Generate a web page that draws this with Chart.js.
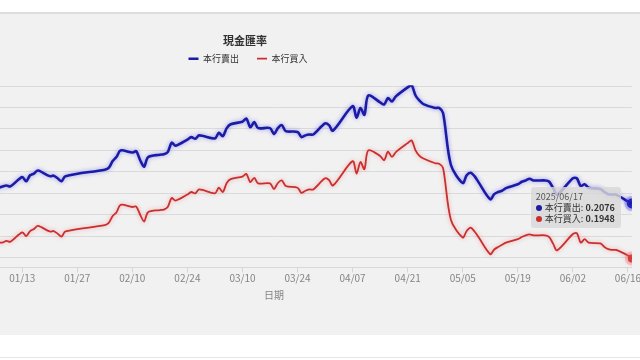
<!DOCTYPE html>
<html>
<head>
<meta charset="utf-8">
<script src="https://cdn.jsdelivr.net/npm/chart.js@4.4.1/dist/chart.umd.min.js"></script>
<style>
  html, body { margin: 0; padding: 0; background: #fff; width: 640px; height: 360px; overflow: hidden; }
  #panel { position: absolute; left: 0; top: 12px; width: 640px; height: 321px; background: #f1f1f1; border-top: 2px solid #dedede; overflow: hidden; }
  #wrap { position: absolute; left: -151px; top: 0; width: 792px; height: 321px; }
  #foot { position: absolute; left: 0; top: 357px; width: 640px; height: 1px; background: #e6e6e6; }
  #tip { position: absolute; display: none; z-index: 5; pointer-events: none;
         background: rgba(216, 216, 216, 0.82); border-radius: 3px; padding: 4px 6px 4px 5px;
         font-family: 'Noto Sans CJK TC', 'Noto Sans', sans-serif; color: #333; white-space: nowrap; }
  #tip .t { font-size: 9px; line-height: 11px; color: #555; }
  #tip .r { font-size: 9px; line-height: 11px; }
  #tip .dot { display: inline-block; width: 6px; height: 6px; border-radius: 50%; margin-right: 3px; vertical-align: 0; }
</style>
</head>
<body>
<div id="panel">
  <div id="wrap">
    <canvas id="rateChart"></canvas>
    <div id="tip"></div>
  </div>
</div>
<div id="foot"></div>
<script>
// 現金匯率 (日圓), 本行賣出 / 本行買入
const rangeStart = '2024/12/17';
const rangeEnd = '2025/06/17';

const dates = [
  '2025/01/02', '2025/01/03', '2025/01/06', '2025/01/07', '2025/01/08', '2025/01/09', '2025/01/10',
  '2025/01/13', '2025/01/14', '2025/01/15', '2025/01/16', '2025/01/17',
  '2025/01/20', '2025/01/21', '2025/01/22', '2025/01/23', '2025/01/24',
  '2025/02/03', '2025/02/04', '2025/02/05', '2025/02/06', '2025/02/07',
  '2025/02/10', '2025/02/11', '2025/02/12', '2025/02/13', '2025/02/14',
  '2025/02/17', '2025/02/18', '2025/02/19', '2025/02/20', '2025/02/21',
  '2025/02/24', '2025/02/25', '2025/02/26', '2025/02/27',
  '2025/03/03', '2025/03/04', '2025/03/05', '2025/03/06', '2025/03/07',
  '2025/03/10', '2025/03/11', '2025/03/12', '2025/03/13', '2025/03/14',
  '2025/03/17', '2025/03/18', '2025/03/19', '2025/03/20', '2025/03/21',
  '2025/03/24', '2025/03/25', '2025/03/26', '2025/03/27', '2025/03/28',
  '2025/03/31', '2025/04/01', '2025/04/02',
  '2025/04/07', '2025/04/08', '2025/04/09', '2025/04/10', '2025/04/11',
  '2025/04/14', '2025/04/15', '2025/04/16', '2025/04/17', '2025/04/18',
  '2025/04/21', '2025/04/22', '2025/04/23', '2025/04/24', '2025/04/25',
  '2025/04/28', '2025/04/29', '2025/04/30',
  '2025/05/02', '2025/05/05', '2025/05/06', '2025/05/07', '2025/05/08', '2025/05/09',
  '2025/05/12', '2025/05/13', '2025/05/14', '2025/05/15', '2025/05/16',
  '2025/05/19', '2025/05/20', '2025/05/21', '2025/05/22', '2025/05/23',
  '2025/05/26', '2025/05/27', '2025/05/28', '2025/05/29',
  '2025/06/02', '2025/06/03', '2025/06/04', '2025/06/05', '2025/06/06',
  '2025/06/09', '2025/06/10', '2025/06/11', '2025/06/12', '2025/06/13',
  '2025/06/16', '2025/06/17'
];

const sellRates = [
  0.2114, 0.2112, 0.2112, 0.2113, 0.2116, 0.2118, 0.2116,
  0.2138, 0.2128, 0.2142, 0.2146, 0.2153,
  0.2140, 0.2141, 0.2135, 0.2128, 0.2140,
  0.2155, 0.2159, 0.2175, 0.2185, 0.2200,
  0.2195, 0.2198, 0.2177, 0.2162, 0.2184,
  0.2190, 0.2191, 0.2196, 0.2218, 0.2211,
  0.2225, 0.2231, 0.2227, 0.2235,
  0.2228, 0.2241, 0.2233, 0.2252, 0.2261,
  0.2267, 0.2274, 0.2254, 0.2266, 0.2252,
  0.2252, 0.2238, 0.2252, 0.2259, 0.2245,
  0.2243, 0.2231, 0.2235, 0.2237, 0.2237,
  0.2263, 0.2259, 0.2246,
  0.2303, 0.2276, 0.2299, 0.2283, 0.2328,
  0.2312, 0.2307, 0.2322, 0.2314, 0.2326,
  0.2347, 0.2352, 0.2328, 0.2316, 0.2308,
  0.2299, 0.2299, 0.2287,
  0.2166, 0.2124, 0.2142, 0.2148, 0.2140, 0.2126,
  0.2086, 0.2098, 0.2103, 0.2106, 0.2112,
  0.2121, 0.2127, 0.2130, 0.2134, 0.2130,
  0.2130, 0.2127, 0.2112, 0.2097,
  0.2135, 0.2135, 0.2117, 0.2121, 0.2113,
  0.2110, 0.2103, 0.2098, 0.2097, 0.2097,
  0.2081, 0.2076
];

const buyRates = [
  0.1985, 0.1984, 0.1984, 0.1985, 0.1985, 0.1989, 0.1987,
  0.2009, 0.2000, 0.2012, 0.2017, 0.2024,
  0.2011, 0.2012, 0.2006, 0.1999, 0.2011,
  0.2026, 0.2031, 0.2047, 0.2056, 0.2073,
  0.2068, 0.2069, 0.2050, 0.2034, 0.2056,
  0.2061, 0.2062, 0.2068, 0.2089, 0.2083,
  0.2097, 0.2103, 0.2100, 0.2109,
  0.2100, 0.2113, 0.2103, 0.2124, 0.2133,
  0.2139, 0.2145, 0.2126, 0.2136, 0.2123,
  0.2123, 0.2110, 0.2124, 0.2130, 0.2117,
  0.2113, 0.2101, 0.2106, 0.2109, 0.2109,
  0.2135, 0.2131, 0.2118,
  0.2175, 0.2146, 0.2173, 0.2156, 0.2200,
  0.2187, 0.2177, 0.2197, 0.2185, 0.2196,
  0.2217, 0.2223, 0.2200, 0.2187, 0.2181,
  0.2170, 0.2169, 0.2159,
  0.2038, 0.1997, 0.2012, 0.2020, 0.2011, 0.1998,
  0.1958, 0.1969, 0.1975, 0.1980, 0.1985,
  0.1993, 0.1998, 0.2002, 0.2004, 0.2002,
  0.2002, 0.1998, 0.1982, 0.1967,
  0.2005, 0.2007, 0.1985, 0.1993, 0.1985,
  0.1983, 0.1975, 0.1970, 0.1968, 0.1968,
  0.1955, 0.1948
];

const tickDates = [
  '2025/01/13', '2025/01/27', '2025/02/10', '2025/02/24', '2025/03/10', '2025/03/24',
  '2025/04/07', '2025/04/21', '2025/05/05', '2025/05/19', '2025/06/02', '2025/06/16'
];

const seriesNames = ['本行賣出', '本行買入'];
const lineColors = ['#1b1ba6', '#c92f2f'];
const glowColors = ['rgba(40, 40, 235, 0.45)', 'rgba(235, 80, 80, 0.45)'];
const yMin = 0.1927, yMax = 0.2352, yStep = 0.005;

const DAY = 86400000;
const base = Date.UTC(2025, 0, 1);

// days since 2025/01/01
function dayNum(s) {
  const p = s.split('/').map(Number);
  return (Date.UTC(p[0], p[1] - 1, p[2]) - base) / DAY;
}
function pad(n) { return (n < 10 ? '0' : '') + n; }
function mdLabel(n) {
  const t = new Date(base + Math.round(n) * DAY);
  return pad(t.getUTCMonth() + 1) + '/' + pad(t.getUTCDate());
}

function toPoints(values) {
  return dates.map((d, i) => ({ x: dayNum(d), y: values[i] }));
}

const glowPlugin = {
  id: 'glow',
  beforeDatasetDraw(chart, args) {
    const c = chart.ctx;
    c.save();
    c.shadowColor = glowColors[args.index];
    c.shadowBlur = 4;
  },
  afterDatasetDraw(chart) {
    chart.ctx.restore();
  }
};

// legend sits tight under the title, chart area stays where it is
const legendShift = {
  id: 'legendShift',
  afterLayout(chart) {
    const lg = chart.legend;
    lg.top -= 12;
    lg.bottom -= 12;
    lg.left += 3;
    lg.right += 3;
  }
};

function renderTip(context) {
  const tooltip = context.tooltip;
  const tip = document.getElementById('tip');
  if (tooltip.opacity === 0 || !tooltip.dataPoints || !tooltip.dataPoints.length) {
    tip.style.display = 'none';
    return;
  }
  const pts = tooltip.dataPoints;
  let html = '<div class="t">' + dates[pts[0].dataIndex] + '</div>';
  pts.forEach(p => {
    html += '<div class="r"><span class="dot" style="background:' + p.dataset.borderColor + '"></span>' +
      p.dataset.label + ': <b>' + p.parsed.y.toFixed(4) + '</b></div>';
  });
  tip.innerHTML = html;
  tip.style.display = 'block';
  const el = pts[0].element;
  tip.style.left = (el.x - 11 - tip.offsetWidth) + 'px';
  tip.style.top = (el.y - 17) + 'px';
}

Chart.defaults.font.family = "'Noto Sans CJK TC', 'Noto Sans', sans-serif";

const ctx = document.getElementById('rateChart');
const chart = new Chart(ctx, {
  type: 'line',
  data: {
    datasets: [{
      label: seriesNames[0],
      data: toPoints(sellRates),
      borderColor: lineColors[0],
      backgroundColor: lineColors[0],
      borderWidth: 2.6,
      tension: 0.3,
      pointRadius: 0,
      pointHoverRadius: 5,
      pointHoverBackgroundColor: lineColors[0],
      pointHoverBorderColor: 'rgba(60, 60, 230, 0.25)',
      pointHoverBorderWidth: 5
    }, {
      label: seriesNames[1],
      data: toPoints(buyRates),
      borderColor: lineColors[1],
      backgroundColor: lineColors[1],
      borderWidth: 1.8,
      tension: 0.3,
      pointRadius: 0,
      pointHoverRadius: 4,
      pointHoverBackgroundColor: lineColors[1],
      pointHoverBorderColor: 'rgba(240, 90, 90, 0.25)',
      pointHoverBorderWidth: 6
    }]
  },
  options: {
    responsive: true,
    maintainAspectRatio: false,
    animation: false,
    events: [],
    interaction: { mode: 'index', intersect: false },
    layout: { padding: { top: 0, right: 0, bottom: 34, left: 0 } },
    scales: {
      x: {
        type: 'linear',
        min: dayNum(rangeStart),
        max: dayNum(rangeEnd),
        afterBuildTicks: function (scale) {
          scale.ticks = tickDates.map(d => ({ value: dayNum(d) }));
        },
        ticks: {
          autoSkip: false,
          maxRotation: 0,
          color: '#858585',
          font: { size: 10 },
          padding: 0,
          callback: function (value) {
            return mdLabel(value);
          }
        },
        grid: { drawOnChartArea: false, drawTicks: true, tickLength: 5, color: '#d6d6d6' },
        border: { color: '#d8d8d8' },
        title: { display: true, text: '日期', color: '#858585', font: { size: 10 }, padding: { top: 4.5, bottom: 0 } }
      },
      y: {
        min: yMin,
        max: yMax,
        afterFit: function (scale) {
          scale.width = 67;
        },
        ticks: {
          stepSize: yStep,
          includeBounds: false,
          color: '#858585',
          font: { size: 10 },
          callback: function (value) {
            return value.toFixed(4);
          }
        },
        grid: { color: '#dadada', drawTicks: false },
        border: { display: false }
      }
    },
    plugins: {
      title: {
        display: true,
        text: '現金匯率',
        color: '#333',
        font: { size: 11, weight: 'bold' },
        padding: { top: 20, bottom: 1 }
      },
      legend: {
        position: 'top',
        labels: {
          usePointStyle: true,
          pointStyle: 'line',
          pointStyleWidth: 10,
          boxWidth: 10,
          boxHeight: 9,
          padding: 18,
          color: '#333',
          font: { size: 9 }
        }
      },
      tooltip: {
        enabled: false,
        external: renderTip
      }
    }
  },
  plugins: [glowPlugin, legendShift]
});

const last = dates.length - 1;
const active = [{ datasetIndex: 0, index: last }, { datasetIndex: 1, index: last }];
chart.setActiveElements(active);
chart.tooltip.setActiveElements(active, { x: 0, y: 0 });
chart.update();
</script>
</body>
</html>
